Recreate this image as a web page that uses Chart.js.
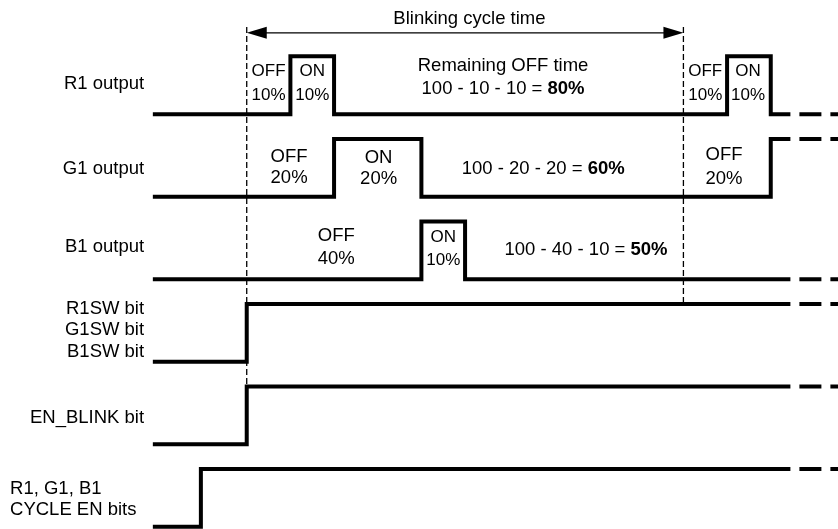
<!DOCTYPE html>
<html>
<head>
<meta charset="utf-8">
<script src="https://cdn.jsdelivr.net/npm/chart.js@4/dist/chart.umd.min.js"></script>
<style>
  body { margin: 0; background: #fff; }
</style>
</head>
<body>
<canvas id="timing" width="838" height="529"></canvas>
<script>
// time axis is in % of the blinking cycle (0 = cycle start, 100 = next cycle)
var signalNames = ['R1 output', 'G1 output', 'B1 output', 'R1SW bit\nG1SW bit\nB1SW bit', 'EN_BLINK bit', 'R1, G1, B1\nCYCLE EN bits'];

// moments where each signal toggles (all start low)
var edgesR1 = [10, 20, 110, 120];
var edgesG1 = [20, 40, 120];
var edgesB1 = [40, 50];
var edgesSW = [0];
var edgesBlink = [0];
var edgesCycleEn = [-10.5];

var cycleStart = 0;
var cycleEnd = 100;
var cycleTitle = 'Blinking cycle time';

// texts written inside the waveforms ("**" starts the bold part)
var notesR1 = ['OFF\n10%', 'ON\n10%', 'Remaining OFF time\n100 - 10 - 10 = **80%', 'OFF\n10%', 'ON\n10%'];
var notesG1 = ['OFF\n20%', 'ON\n20%', '100 - 20 - 20 = **60%', 'OFF\n20%'];
var notesB1 = ['OFF\n40%', 'ON\n10%', '100 - 40 - 10 = **50%'];

// ---- layout (not data) ----
var traceStart = -21.5;
var solidEnd = 124.5;
var dashEnd = 140;
var highLevel = 0.7;       // height of a pulse, in row units
var font = '"Liberation Sans", Arial, sans-serif';

// where each note goes: x (%), y offset of every line (row units), font size
var notesR1At = [[5, [-0.523, -0.232], 17], [15, [-0.523, -0.232], 17], [58.7, [-0.583, -0.305], 18.5], [105, [-0.523, -0.232], 17], [114.8, [-0.523, -0.232], 17]];
var notesG1At = [[9.7, [-0.481, -0.227], 18.5], [30.2, [-0.469, -0.214], 18.5], [67.9, [-0.336], 18.5], [109.3, [-0.505, -0.214], 18.5]];
var notesB1At = [[20.5, [-0.523, -0.245], 18.5], [45, [-0.511, -0.233], 17], [77.7, [-0.354], 18.5]];

// signal names: x, align, y offsets
var namesAt = [
    [-23.5, 'right', [-0.365]],
    [-23.5, 'right', [-0.336]],
    [-23.5, 'right', [-0.396]],
    [-23.5, 'right', [-0.646, -0.385, -0.119]],
    [-23.5, 'right', [-0.325]],
    [-54.2, 'left', [-0.459, -0.205]]
];

function levelY(row, level) {
    return row - level * highLevel;
}

// builds the step line of one signal from its edge list
function stepPoints(row, edges) {
    var level = 0;
    var points = [{ x: traceStart, y: levelY(row, level) }];
    edges.forEach(function (t) {
        points.push({ x: t, y: levelY(row, level) });
        level = 1 - level;
        points.push({ x: t, y: levelY(row, level) });
    });
    points.push({ x: solidEnd, y: levelY(row, level) });
    return { points: points, last: level };
}

var datasets = [];
var allEdges = [edgesR1, edgesG1, edgesB1, edgesSW, edgesBlink, edgesCycleEn];

allEdges.forEach(function (edges, row) {
    var wave = stepPoints(row, edges);
    datasets.push({
        data: wave.points,
        borderColor: '#000',
        borderWidth: 4,
        borderCapStyle: 'butt',
        borderJoinStyle: 'miter',
        pointRadius: 0,
        clip: false
    });
    // the signal keeps going: dashed tail
    datasets.push({
        data: [{ x: solidEnd, y: levelY(row, wave.last) }, { x: dashEnd, y: levelY(row, wave.last) }],
        borderColor: '#000',
        borderWidth: 4,
        borderCapStyle: 'butt',
        borderDash: [22, 9],
        borderDashOffset: 22,
        pointRadius: 0,
        clip: false
    });
});

// dashed markers of the cycle start and end
var markerTop = -1.056;
datasets.push({
    data: [{ x: cycleStart, y: markerTop }, { x: cycleStart, y: levelY(4, 1) }],
    borderColor: '#000', borderWidth: 1.3, borderDash: [6, 3], pointRadius: 0
});
datasets.push({
    data: [{ x: cycleEnd, y: markerTop }, { x: cycleEnd, y: levelY(3, 1) }],
    borderColor: '#000', borderWidth: 1.3, borderDash: [6, 3], pointRadius: 0
});

// arrow of the cycle time
var arrowY = -0.985;
var titleY = -1.159;
datasets.push({
    data: [{ x: cycleStart + 3, y: arrowY }, { x: cycleEnd - 3, y: arrowY }],
    borderColor: '#000', borderWidth: 1.4, pointRadius: 0
});

function drawRich(ctx, text, x, y, size, align) {
    var parts = text.split('**');
    var normal = size + 'px ' + font;
    var bold = 'bold ' + normal;
    ctx.font = normal;
    var w1 = ctx.measureText(parts[0]).width;
    var w2 = 0;
    if (parts[1]) {
        ctx.font = bold;
        w2 = ctx.measureText(parts[1]).width;
    }
    var total = w1 + w2;
    var left = x;
    if (align === 'center') left = x - total / 2;
    if (align === 'right') left = x - total;
    ctx.textAlign = 'left';
    ctx.font = normal;
    ctx.fillText(parts[0], left, y);
    if (parts[1]) {
        ctx.font = bold;
        ctx.fillText(parts[1], left + w1, y);
    }
}

function drawNotes(ctx, sx, sy, row, texts, places) {
    texts.forEach(function (txt, i) {
        var lines = txt.split('\n');
        var p = places[i];
        lines.forEach(function (line, k) {
            drawRich(ctx, line, sx.getPixelForValue(p[0]), sy.getPixelForValue(row + p[1][k]), p[2], 'center');
        });
    });
}

var textPlugin = {
    id: 'timingTexts',
    afterDatasetsDraw: function (chart) {
        var ctx = chart.ctx;
        var sx = chart.scales.x;
        var sy = chart.scales.y;
        ctx.save();
        ctx.fillStyle = '#000';
        ctx.textBaseline = 'middle';

        // signal names
        signalNames.forEach(function (name, row) {
            var p = namesAt[row];
            name.split('\n').forEach(function (line, k) {
                drawRich(ctx, line, sx.getPixelForValue(p[0]), sy.getPixelForValue(row + p[2][k]), 18.5, p[1]);
            });
        });

        drawNotes(ctx, sx, sy, 0, notesR1, notesR1At);
        drawNotes(ctx, sx, sy, 1, notesG1, notesG1At);
        drawNotes(ctx, sx, sy, 2, notesB1, notesB1At);

        // title of the arrow
        drawRich(ctx, cycleTitle, sx.getPixelForValue((cycleStart + cycleEnd) / 2 + 1), sy.getPixelForValue(titleY), 18.5, 'center');

        // arrow heads
        var ay = sy.getPixelForValue(arrowY);
        var x0 = sx.getPixelForValue(cycleStart);
        var x1 = sx.getPixelForValue(cycleEnd);
        ctx.beginPath();
        ctx.moveTo(x0, ay);
        ctx.lineTo(x0 + 20, ay - 6);
        ctx.lineTo(x0 + 20, ay + 6);
        ctx.closePath();
        ctx.fill();
        ctx.beginPath();
        ctx.moveTo(x1, ay);
        ctx.lineTo(x1 - 20, ay - 6);
        ctx.lineTo(x1 - 20, ay + 6);
        ctx.closePath();
        ctx.fill();

        ctx.restore();
    }
};

var ctx = document.getElementById('timing').getContext('2d');
window.timingChart = new Chart(ctx, {
    type: 'line',
    data: { datasets: datasets },
    options: {
        responsive: false,
        animation: false,
        devicePixelRatio: 1,
        layout: { padding: 0 },
        plugins: {
            legend: { display: false },
            tooltip: { enabled: false }
        },
        scales: {
            x: { type: 'linear', display: false, min: -56.5, max: 135.4 },
            y: { type: 'linear', display: false, reverse: true, min: -1.383, max: 5.026 }
        }
    },
    plugins: [textPlugin]
});
</script>
</body>
</html>
